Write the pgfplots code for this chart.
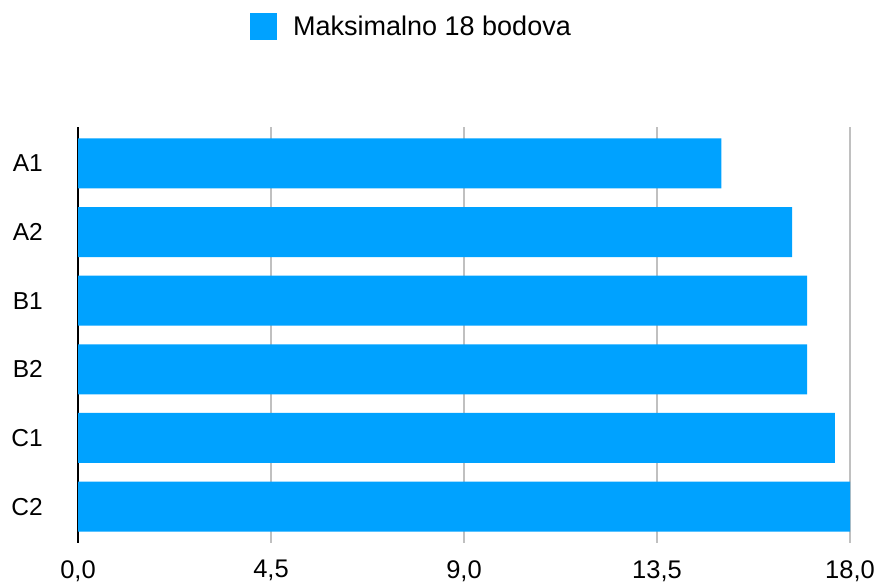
\documentclass[border=0pt]{standalone}
\usepackage{fontspec}
\setmainfont{Liberation Sans}
\usepackage{pgfplots}
\pgfplotsset{compat=1.18}
\pgfplotsset{layers/mylayers/.define layer set={axis background,axis grid,main,axis ticks,axis lines,axis tick labels,axis descriptions,axis foreground}{}}
\definecolor{barblue}{HTML}{00A2FF}
\definecolor{gridgray}{HTML}{C0C0C0}
\begin{document}
\begin{tikzpicture}
\begin{axis}[
  set layers=mylayers,
  at={(0pt,0pt)}, anchor=south west,
  scale only axis, width=772pt, height=416pt,
  xbar, bar width=50pt,
  xmin=0, xmax=18,
  ymin=-0.53, ymax=5.53, y dir=reverse,
  ytick={0,1,2,3,4,5},
  yticklabels={A1,A2,B1,B2,C1,C2},
  xtick={0,4.5,9,13.5,18},
  xmajorgrids, grid style={gridgray, line width=2pt},
  major tick length=0pt,
  axis x line*=bottom, x axis line style={draw=none},
  axis y line*=left, y axis line style={-, black, line width=2pt},
  xticklabel style={font=\fontsize{25.5}{30}\selectfont, inner sep=0pt,
    /pgf/number format/assume math mode=true,
    /pgf/number format/use comma,
    /pgf/number format/fixed,
    /pgf/number format/fixed zerofill,
    /pgf/number format/precision=1},
  xticklabel shift=17pt,
  yticklabel style={font=\fontsize{24.5}{29}\selectfont, inner sep=0pt},
  yticklabel shift=35pt,
  legend style={at={(0.2228,1.2416)}, anchor=west, draw=none, inner sep=0pt,
    font=\fontsize{27}{32}\selectfont, nodes={inner sep=0pt}},
  legend cell align=left,
  legend image code/.code={\fill[barblue] (0pt,-13.5pt) rectangle (27pt,13.5pt); \path (43pt,0pt);},
]
\addplot[xbar, fill=barblue, draw=none] coordinates {(15,0) (16.65,1) (17,2) (17,3) (17.65,4) (18,5)};
\addlegendentry{Maksimalno 18 bodova}
\end{axis}
\pgfresetboundingbox
\path[use as bounding box] (-78pt,-39pt) rectangle (801pt,543pt);
\end{tikzpicture}
\end{document}
